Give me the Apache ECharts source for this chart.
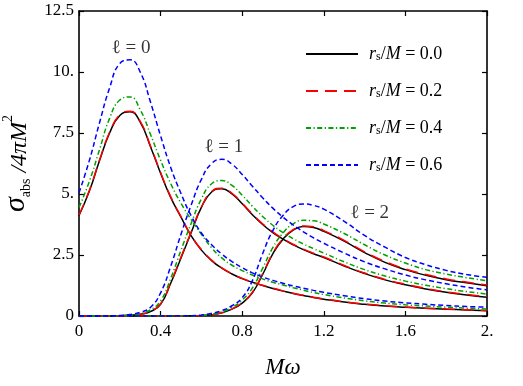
<!DOCTYPE html>
<html>
<head>
<meta charset="utf-8">
<script src="https://cdn.jsdelivr.net/npm/echarts@6/dist/echarts.min.js"></script>
<style>html,body{margin:0;padding:0;background:#fff;}#c{width:523px;height:386px;}</style>
</head>
<body>
<div id="c"></div>
<script>
// ---- data ----
const omega = [0,0.05,0.1,0.15,0.2,0.25,0.3,0.35,0.4,0.45,0.5,0.55,0.6,0.65,0.7,0.75,0.8,0.85,0.9,0.95,1.0,1.05,1.1,1.15,1.2,1.3,1.4,1.5,1.6,1.7,1.8,1.9,2.0];

const l0_r00 = [4.12,5.1,6.35,7.5,8.22,8.37,7.95,6.95,5.85,4.85,4.05,3.28,2.7,2.27,1.96,1.72,1.53,1.38,1.25,1.13,1.02,0.92,0.84,0.76,0.69,0.57,0.48,0.41,0.36,0.32,0.28,0.25,0.22];
const l0_r02 = [4.14,5.13,6.38,7.53,8.25,8.39,7.98,6.98,5.88,4.88,4.07,3.3,2.72,2.29,1.97,1.73,1.54,1.39,1.26,1.14,1.03,0.93,0.85,0.77,0.7,0.58,0.49,0.42,0.37,0.32,0.29,0.26,0.23];
const l0_r04 = [4.45,5.5,6.8,8.1,8.85,8.98,8.45,7.45,6.38,5.42,4.62,3.95,3.35,2.8,2.38,2.08,1.86,1.68,1.52,1.38,1.27,1.16,1.06,0.96,0.88,0.74,0.62,0.53,0.46,0.41,0.36,0.32,0.29];
const l0_r06 = [5.05,6.35,7.9,9.35,10.35,10.5,10.0,8.78,7.38,6.08,5.02,4.1,3.4,2.92,2.54,2.23,1.98,1.77,1.6,1.46,1.34,1.23,1.14,1.05,0.97,0.83,0.71,0.61,0.54,0.48,0.43,0.39,0.36];

const l1_r00 = [0,0,0,0.003,0.01,0.03,0.07,0.18,0.48,1.35,2.38,3.42,4.45,5.08,5.22,5.0,4.6,4.15,3.75,3.42,3.15,2.92,2.72,2.55,2.4,2.05,1.74,1.48,1.28,1.11,0.97,0.86,0.77];
const l1_r02 = [0,0,0,0.003,0.01,0.03,0.07,0.19,0.5,1.38,2.42,3.45,4.47,5.1,5.24,5.03,4.62,4.18,3.78,3.45,3.17,2.94,2.74,2.57,2.42,2.07,1.76,1.5,1.3,1.13,0.99,0.88,0.79];
const l1_r04 = [0,0,0,0.004,0.01,0.04,0.1,0.25,0.62,1.55,2.7,3.8,4.8,5.42,5.55,5.35,4.95,4.5,4.08,3.72,3.42,3.17,2.95,2.76,2.58,2.22,1.9,1.64,1.43,1.26,1.12,1.0,0.9];
const l1_r06 = [0,0,0,0.005,0.02,0.06,0.15,0.35,0.95,2.05,3.35,4.55,5.6,6.25,6.42,6.22,5.8,5.32,4.85,4.42,4.05,3.73,3.45,3.2,2.98,2.58,2.22,1.93,1.68,1.48,1.32,1.18,1.07];

const l2_r00 = [0,0,0,0,0,0,0,0,0.001,0.002,0.004,0.008,0.015,0.05,0.13,0.28,0.53,0.95,1.7,2.55,3.15,3.52,3.67,3.63,3.47,3.07,2.6,2.2,1.9,1.67,1.49,1.36,1.24];
const l2_r02 = [0,0,0,0,0,0,0,0,0.001,0.002,0.004,0.008,0.016,0.05,0.13,0.29,0.55,0.98,1.73,2.58,3.17,3.54,3.69,3.66,3.5,3.1,2.63,2.23,1.93,1.7,1.52,1.39,1.27];
const l2_r04 = [0,0,0,0,0,0,0,0,0.001,0.002,0.005,0.01,0.02,0.07,0.17,0.35,0.65,1.15,1.95,2.8,3.4,3.78,3.92,3.9,3.77,3.38,2.92,2.5,2.17,1.9,1.72,1.57,1.45];
const l2_r06 = [0,0,0,0,0,0,0,0,0.002,0.004,0.008,0.012,0.04,0.11,0.22,0.42,0.75,1.45,2.55,3.5,4.12,4.48,4.59,4.53,4.38,3.88,3.3,2.82,2.4,2.1,1.87,1.7,1.58];

const legendNames = ['0.0','0.2','0.4','0.6'];
const xTickLabels = {0:'0',0.4:'0.4',0.8:'0.8',1.2:'1.2',1.6:'1.6',2:'2.'};
const yTickLabels = {0:'0',2.5:'2.5',5:'5.',7.5:'7.5',10:'10.',12.5:'12.5'};
const annotations = [['ℓ = 0',0.255,11.0],['ℓ = 1',0.71,6.93],['ℓ = 2',1.425,4.22]];

// ---- styles ----
const SERIF = '"Liberation Serif","DejaVu Serif",serif';
const styles = {
  '0.0': {color:'#000000', type:'solid'},
  '0.2': {color:'#ff0000', type:[12,7]},
  '0.4': {color:'#00a000', type:[5,2.5,1.2,2.5]},
  '0.6': {color:'#0000ff', type:[5,3]}
};
const groups = [
  ['0.0',[l0_r00,l1_r00,l2_r00]],
  ['0.2',[l0_r02,l1_r02,l2_r02]],
  ['0.4',[l0_r04,l1_r04,l2_r04]],
  ['0.6',[l0_r06,l1_r06,l2_r06]]
];
const series = [];
groups.forEach(([name, arrs]) => {
  arrs.forEach(arr => {
    series.push({
      name: name, type:'line', xAxisIndex:0, yAxisIndex:0,
      data: arr.map((v,i)=>[omega[i], v]),
      showSymbol:false, symbol:'none', smooth:0.5,
      lineStyle:{color:styles[name].color, type:styles[name].type, width:1.5},
      itemStyle:{color:styles[name].color},
      animation:false, silent:true, z:2
    });
  });
});
series.push({
  type:'scatter', xAxisIndex:0, yAxisIndex:0, symbolSize:1,
  itemStyle:{color:'rgba(0,0,0,0)'},
  data: annotations.map(a=>({name:a[0], value:[a[1],a[2]]})),
  label:{show:true, position:'inside', formatter:'{b}', color:'#000', fontFamily:SERIF, fontSize:19},
  animation:false, silent:true
});

const axisLineStyle = {show:true, onZero:false, lineStyle:{color:'#000', width:1.6}};
const tickStyle = {show:true, inside:true, length:5, lineStyle:{color:'#000', width:1.2}};

const chart = echarts.init(document.getElementById('c'), null, {renderer:'canvas'});
chart.setOption({
  animation:false,
  backgroundColor:'#fff',
  grid:{left:79, right:36, top:11, bottom:70, containLabel:false, outerBoundsMode:'none'},
  xAxis:[
    {type:'value', min:0, max:2, interval:0.4, position:'bottom',
     axisLine:axisLineStyle, axisTick:tickStyle, splitLine:{show:false},
     axisLabel:{color:'#000', fontFamily:SERIF, fontSize:17, margin:7,
       formatter:v=>xTickLabels[Math.round(v*10)/10] ?? String(v)},
     name:'Mω', nameLocation:'middle', nameGap:40,
     nameTextStyle:{color:'#000', fontFamily:SERIF, fontStyle:'italic', fontSize:23}},
    {type:'value', min:0, max:2, interval:0.4, position:'top',
     axisLine:axisLineStyle, axisTick:tickStyle, splitLine:{show:false}, axisLabel:{show:false}}
  ],
  yAxis:[
    {type:'value', min:0, max:12.5, interval:2.5, position:'left',
     axisLine:axisLineStyle, axisTick:tickStyle, splitLine:{show:false},
     axisLabel:{color:'#000', fontFamily:SERIF, fontSize:17, margin:5,
       formatter:v=>yTickLabels[v] ?? String(v)},
     name:'{a|σ}{b|abs}{c| /4πM}{d|2}', nameLocation:'middle', nameGap:33, nameRotate:90,
     nameTextStyle:{color:'#000', fontFamily:SERIF, rich:{
       a:{fontFamily:SERIF, fontStyle:'italic', fontSize:30, color:'#000', verticalAlign:'bottom'},
       b:{fontFamily:SERIF, fontSize:14, color:'#000', verticalAlign:'bottom', padding:[0,0,-2,0]},
       c:{fontFamily:SERIF, fontStyle:'italic', fontSize:24, color:'#000', verticalAlign:'bottom'},
       d:{fontFamily:SERIF, fontSize:14, color:'#000', verticalAlign:'top'}
     }}},
    {type:'value', min:0, max:12.5, interval:2.5, position:'right',
     axisLine:axisLineStyle, axisTick:tickStyle, splitLine:{show:false}, axisLabel:{show:false}}
  ],
  legend:{
    data:legendNames, orient:'vertical', left:300, top:40, itemWidth:52, itemHeight:14, itemGap:19,
    selectedMode:false,
    itemStyle:{opacity:0},
    formatter:n=>'{i|r}{s|s}{n|/}{i|M}{n| = '+n+'}',
    textStyle:{color:'#000', fontFamily:SERIF, fontSize:18, padding:[0,0,0,6], rich:{
      i:{fontFamily:SERIF, fontStyle:'italic', fontSize:18, color:'#000'},
      s:{fontFamily:SERIF, fontSize:12, color:'#000', verticalAlign:'bottom'},
      n:{fontFamily:SERIF, fontSize:18, color:'#000'}
    }}
  },
  series:series
});
</script>
</body>
</html>
